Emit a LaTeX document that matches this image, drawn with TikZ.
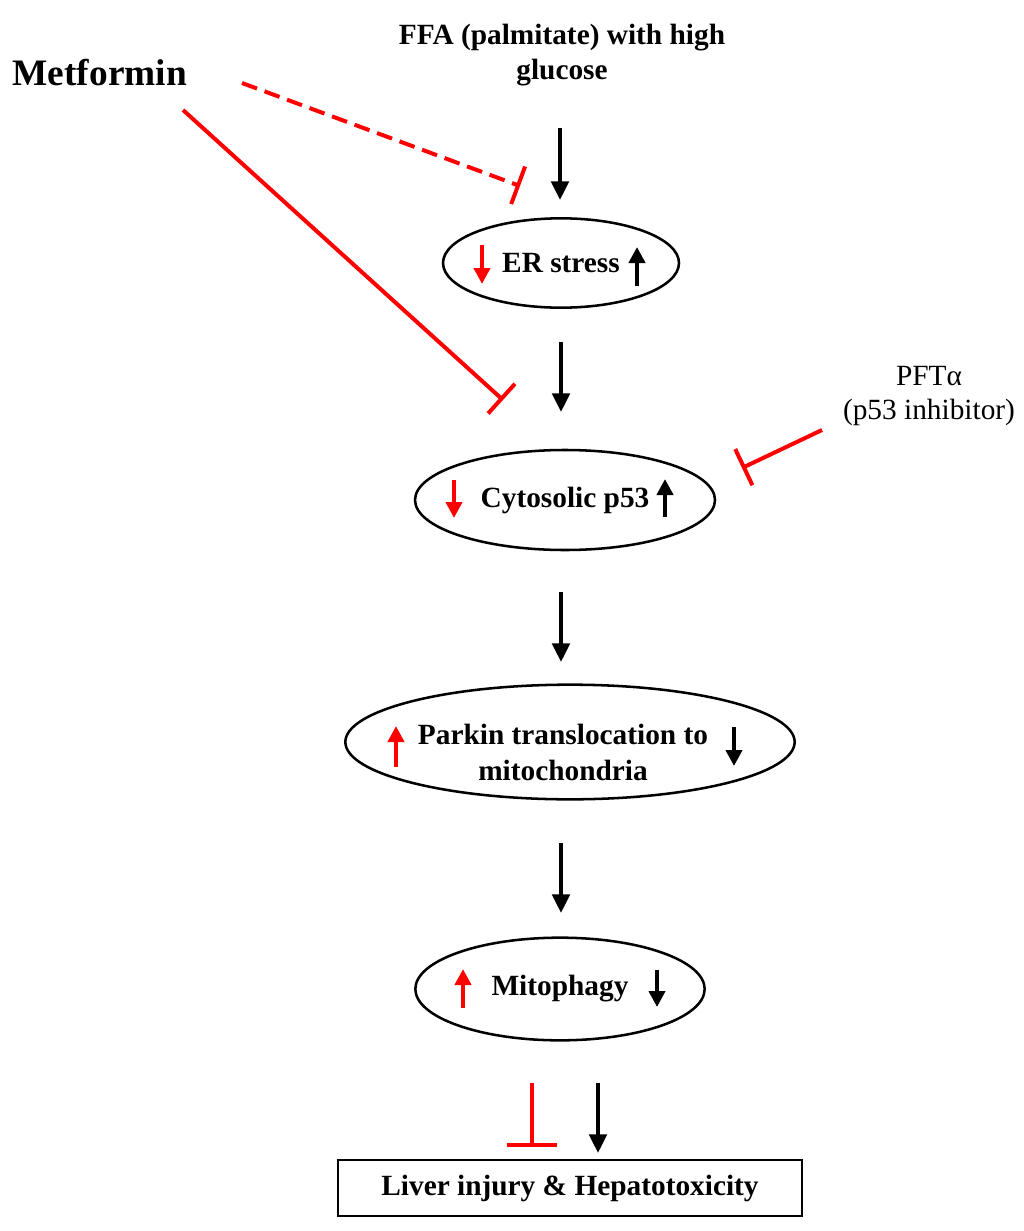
\documentclass[tikz,border=0pt]{standalone}
\usepackage{fontspec}
\setmainfont{Liberation Serif}
\usetikzlibrary{arrows.meta,shapes.geometric}

\tikzset{
  flow/.style={line width=3pt,-{Triangle[width=13pt,length=14pt]}},
  updown/.style={line width=3pt,-{Triangle[width=12pt,length=12pt]}},
  inhibit/.style={red,line width=3pt,-{Bar[width=30pt,line width=3pt]}},
  oval/.style={ellipse,draw,line width=1.9pt,inner sep=0pt,font=\bfseries\fontsize{22}{27}\selectfont,align=center},
  label/.style={font=\fontsize{22}{25}\selectfont,align=center}
}

\begin{document}
\begin{tikzpicture}[x=0.75pt,y=-0.75pt]
\useasboundingbox (0,0) rectangle (1024,1231);

% top inputs
\node[label,font=\bfseries\fontsize{22}{26}\selectfont] (ffa) at (562,55) {FFA (palmitate) with high\\glucose};
\node[anchor=west,font=\bfseries\fontsize{28}{32}\selectfont] (metformin) at (8,73) {Metformin};
\node[label] (pft) at (929,396) {PFTα\\(p53 inhibitor)};

% pathway
\node[oval,minimum width=177pt,minimum height=67pt] (er) at (561,263) {ER stress};
\node[oval,minimum width=225pt,minimum height=75pt] (p53) at (565,500) {Cytosolic p53};
\node[oval,minimum width=337pt,minimum height=86pt] (parkin) at (570,742) {};
\node[font=\bfseries\fontsize{22}{27}\selectfont,align=center] (parkintext) at (563,752) {Parkin translocation to\\mitochondria};
\node[oval,minimum width=217pt,minimum height=77pt] (mito) at (560,989) {Mitophagy};
\node[draw,line width=1.9pt,minimum width=348pt,minimum height=42pt,font=\bfseries\fontsize{22}{26}\selectfont] (liver) at (570,1188) {Liver injury \& Hepatotoxicity};

% arrow end points
\coordinate (a1) at (560,128); \coordinate (b1) at (560,200);
\coordinate (a2) at (561,342); \coordinate (b2) at (561,412);
\coordinate (a3) at (561,592); \coordinate (b3) at (561,662);
\coordinate (a4) at (561,843); \coordinate (b4) at (561,913);
\coordinate (a5) at (598,1083); \coordinate (b5) at (598,1153);
\coordinate (m1) at (242,83);  \coordinate (n1) at (520,186);
\coordinate (m2) at (183,110); \coordinate (n2) at (503,400);
\coordinate (p1) at (822,430); \coordinate (q1) at (742,468);
\coordinate (r1) at (532,1083); \coordinate (s1) at (532,1147);

\draw[flow] (a1) -- (b1);
\draw[flow] (a2) -- (b2);
\draw[flow] (a3) -- (b3);
\draw[flow] (a4) -- (b4);
\draw[flow] (a5) -- (b5);

% inhibitions
\draw[inhibit,dash pattern=on 12pt off 6pt] (m1) -- (n1);
\draw[inhibit] (m2) -- (n2);
\draw[inhibit] (p1) -- (q1);
\draw[inhibit,-{Bar[width=37pt,line width=3pt]}] (r1) -- (s1);

% up and down marks
\draw[updown,red] (482,245) -- (482,284);
\draw[updown] (637,286) -- (637,247);
\draw[updown,red] (454,480) -- (454,518);
\draw[updown] (665,517) -- (665,479);
\draw[updown,red] (396,767) -- (396,726);
\draw[updown] (734,727) -- (734,766);
\draw[updown,red] (463,1008) -- (463,969);
\draw[updown] (657,970) -- (657,1007);
\end{tikzpicture}
\end{document}
